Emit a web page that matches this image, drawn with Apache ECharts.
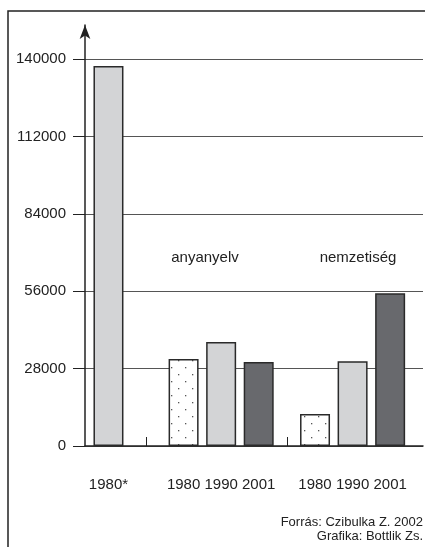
<!DOCTYPE html>
<html>
<head>
<meta charset="utf-8">
<script src="https://cdn.jsdelivr.net/npm/echarts@6/dist/echarts.min.js"></script>
<style>
html,body{margin:0;padding:0;background:#fff;}
#c{width:425px;height:547px;}
</style>
</head>
<body>
<div id="c"></div>
<script>
// ---- data ----
const barLabels = ['1980*', '1980', '1990', '2001', '1980', '1990', '2001'];
const barValues = [137500, 31500, 37600, 30400, 11600, 30700, 55300];
const barKinds = ['light', 'dotted', 'light', 'dark', 'dotted', 'light', 'dark'];
const groupTitles = ['anyanyelv', 'nemzetiség'];
const yTicks = [0, 28000, 56000, 84000, 112000, 140000];
const sourceLines = ['Forrás: Czibulka Z. 2002', 'Grafika: Bottlik Zs.'];

// ---- layout (slot positions on a fine category axis) ----
const SLOT_COUNT = 36;
const barSlots = [2, 10, 14, 18, 24, 28, 32];
const separatorSlots = [6, 21];
const titlePixelX = [205, 358];

const FONT = "'Liberation Sans', Arial, sans-serif";
const INK = '#222';

// dotted pattern
const pc = document.createElement('canvas');
pc.width = 14; pc.height = 14;
const pctx = pc.getContext('2d');
pctx.fillStyle = '#fff';
pctx.fillRect(0, 0, 14, 14);
pctx.fillStyle = '#555';
pctx.fillRect(3, 3, 1.3, 1.3);
pctx.fillRect(10, 10, 1.3, 1.3);

const fills = {
  light: '#d3d4d6',
  dark: '#68696d',
  dotted: { image: pc, repeat: 'repeat' }
};

const categories = [];
const seriesData = [];
for (let i = 0; i < SLOT_COUNT; i++) {
  const k = barSlots.indexOf(i);
  categories.push(k >= 0 ? barLabels[k] : '');
  if (k >= 0) {
    seriesData.push({ value: barValues[k], itemStyle: { color: fills[barKinds[k]] } });
  } else {
    seriesData.push(null);
  }
}

const chart = echarts.init(document.getElementById('c'), null, { renderer: 'canvas' });

const option = {
  backgroundColor: '#fff',
  animation: false,
  grid: [
    { left: 85, right: 2, top: 59, bottom: 101 },
    { left: 85, right: 2, top: 25, bottom: 101 }
  ],
  xAxis: [
    {
      type: 'category',
      gridIndex: 0,
      data: categories,
      boundaryGap: true,
      axisLine: { show: true, lineStyle: { color: INK, width: 1.5 } },
      axisTick: {
        show: true, inside: true, length: 9, alignWithLabel: true,
        interval: function (idx) { return separatorSlots.indexOf(idx) >= 0; },
        lineStyle: { color: INK, width: 1 }
      },
      axisLabel: {
        interval: 0, margin: 31, color: INK, fontSize: 15, fontFamily: FONT
      },
      splitLine: { show: false }
    },
    {
      type: 'value', gridIndex: 1, min: 0, max: 1, show: false
    }
  ],
  yAxis: [
    {
      type: 'value',
      gridIndex: 0,
      min: yTicks[0],
      max: yTicks[yTicks.length - 1],
      interval: yTicks[1] - yTicks[0],
      axisLine: { show: false },
      axisTick: { show: true, length: 12, lineStyle: { color: INK, width: 1 } },
      axisLabel: {
        margin: 19, color: INK, fontSize: 15, fontFamily: FONT,
        formatter: function (v) { return String(v); }
      },
      splitLine: { show: true, lineStyle: { color: '#555', width: 1 } }
    },
    {
      type: 'value', gridIndex: 1, min: 0, max: 1,
      axisLine: {
        show: true, onZero: false,
        symbol: ['none', 'arrow'], symbolSize: [8, 14],
        lineStyle: { color: INK, width: 1.5 }
      },
      axisTick: { show: false },
      axisLabel: { show: false },
      splitLine: { show: false }
    }
  ],
  series: [
    {
      type: 'bar',
      xAxisIndex: 0,
      yAxisIndex: 0,
      data: seriesData,
      barWidth: 30,
      itemStyle: { borderColor: '#2a2a2a', borderWidth: 1.5 },
      z: 3
    }
  ]
};
chart.setOption(option);

const graphics = [
  {
    type: 'polyline',
    shape: { points: [[8, 547], [8, 11], [425, 11]] },
    style: { stroke: INK, lineWidth: 1.5, fill: null },
    silent: true
  }
];
groupTitles.forEach(function (t, i) {
  graphics.push({
    type: 'text',
    x: titlePixelX[i],
    y: 258,
    style: {
      text: t, fill: INK, font: '15px ' + FONT,
      textAlign: 'center', textVerticalAlign: 'middle'
    }
  });
});
sourceLines.forEach(function (t, i) {
  graphics.push({
    type: 'text',
    x: 423,
    y: 522 + i * 14,
    style: {
      text: t, fill: INK, font: '13px ' + FONT,
      textAlign: 'right', textVerticalAlign: 'middle'
    }
  });
});
chart.setOption({ graphic: graphics });
</script>
</body>
</html>
